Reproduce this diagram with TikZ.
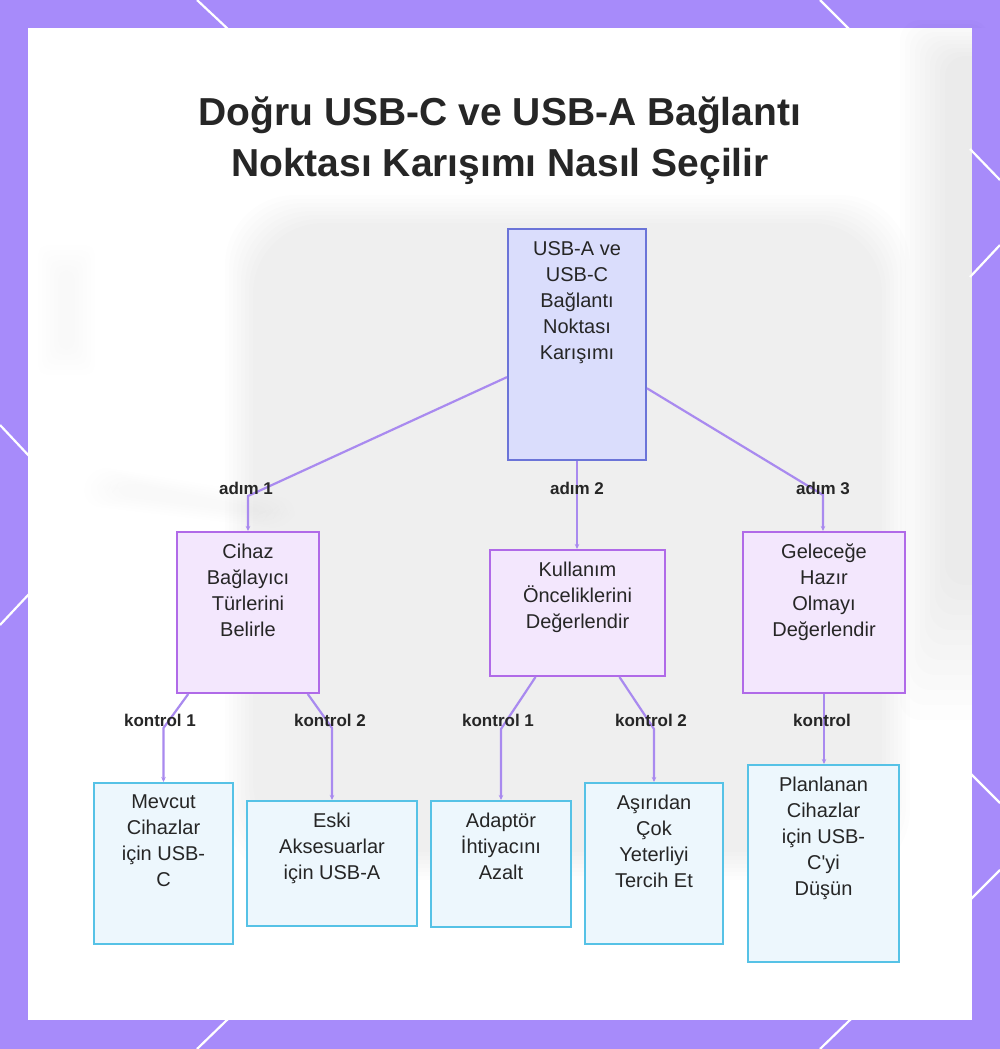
\documentclass[tikz,border=0pt]{standalone}
\usepackage{fontspec}
\setmainfont{Liberation Sans}[Ligatures=TeXOff]
\usetikzlibrary{arrows.meta,calc}
\definecolor{framec}{HTML}{A78BFA}
\definecolor{rootfill}{HTML}{DADDFC}
\definecolor{rootdraw}{HTML}{6B74D8}
\definecolor{midfill}{HTML}{F3E7FD}
\definecolor{middraw}{HTML}{B06AE8}
\definecolor{leaffill}{HTML}{EDF7FD}
\definecolor{leafdraw}{HTML}{56C2E6}
\definecolor{connc}{HTML}{A98AEF}
\definecolor{txt}{HTML}{262626}
\begin{document}
\begin{tikzpicture}[x=1pt,y=-1pt,
  boxbase/.style={rectangle, inner sep=0pt, line width=2pt},
  rootbox/.style={boxbase, fill=rootfill, draw=rootdraw},
  midbox/.style={boxbase, fill=midfill, draw=middraw},
  leafbox/.style={boxbase, fill=leaffill, draw=leafdraw},
  boxtext/.style={anchor=north, inner sep=0pt, align=center, text=txt,
    font=\fontsize{20}{26}\selectfont, yshift=-13pt},
  lbl/.style={inner sep=0pt, text=txt, font=\fontsize{17}{19}\selectfont\bfseries},
  conn/.style={draw=connc, line width=2.2pt, -{Stealth[length=5pt,width=4.5pt]}},
  ttl/.style={anchor=base, inner sep=0pt, text=txt, font=\fontsize{39}{50}\selectfont\bfseries},
  diag/.style={draw=white, line width=2.2pt}
]
\useasboundingbox (0,0) rectangle (1000,1049);
% frame
\fill[framec] (0,0) rectangle (1000,1049);
\draw[diag] (197,0) -- (229,30);
\draw[diag] (820,0) -- (850,30);
\draw[diag] (197,1049) -- (229,1018);
\draw[diag] (820,1049) -- (852,1018);
\draw[diag] (0,425) -- (30,457);
\draw[diag] (0,625) -- (30,593);
\draw[diag] (1000,180) -- (970,149);
\draw[diag] (1000,245) -- (970,277);
\draw[diag] (1000,803) -- (970,773);
\draw[diag] (1000,870) -- (970,900);
% panel
\fill[white] (28,28) rectangle (972,1020);
% faint blurred background
\foreach \i in {0,...,7} {
  \fill[black, opacity=0.006, rounded corners=70pt] (225+\i*4,195+\i*4) rectangle (910-\i*4,880-\i*4);
}
\foreach \i in {0,...,9} {
  \fill[black, opacity=0.007, rounded corners=20pt] (900+\i*5,20+\i*4) rectangle (990,720-\i*15);
}
\foreach \i in {0,...,5} {
  \fill[black, opacity=0.005, rounded corners=20pt] (90+\i*6,465+\i*3) -- (300-\i*6,500+\i*2) -- (290-\i*6,530-\i*3) -- (80+\i*6,505-\i*2) -- cycle;
}
\foreach \i in {0,...,5} {
  \fill[black, opacity=0.005, rounded corners=10pt] (38+\i*4,245+\i*5) rectangle (95-\i*4,375-\i*5);
}
\fill[white] (972,28) rectangle (1000,1020);
\fill[framec] (972,28) rectangle (1000,1020);
\draw[diag] (1000,180) -- (970,149);
\draw[diag] (1000,245) -- (970,277);
\draw[diag] (1000,803) -- (970,773);
\draw[diag] (1000,870) -- (970,900);
% title
\node[ttl] (t1) at (500,125) {Doğru USB-C ve USB-A Bağlantı};
\node[ttl] (t2) at (500,176) {Noktası Karışımı Nasıl Seçilir};
% boxes
\node[rootbox, minimum width=138pt, minimum height=231pt] (root) at (577,344.5) {};
\node[boxtext] (roott) at (root.north) {USB-A ve\\USB-C\\Bağlantı\\Noktası\\Karışımı};

\node[midbox, minimum width=142pt, minimum height=161pt] (b1) at (248,612.5) {};
\node[boxtext] (b1t) at (b1.north) {Cihaz\\Bağlayıcı\\Türlerini\\Belirle};
\node[midbox, minimum width=175pt, minimum height=126pt] (b2) at (577.5,613) {};
\node[boxtext] (b2t) at (b2.north) {Kullanım\\Önceliklerini\\Değerlendir};
\node[midbox, minimum width=162pt, minimum height=161pt] (b3) at (824,612.5) {};
\node[boxtext] (b3t) at (b3.north) {Geleceğe\\Hazır\\Olmayı\\Değerlendir};

\node[leafbox, minimum width=139pt, minimum height=161pt] (c1) at (163.5,863.5) {};
\node[boxtext] (c1t) at (c1.north) {Mevcut\\Cihazlar\\için USB-\\C};
\node[leafbox, minimum width=170pt, minimum height=125pt] (c2) at (332,863.5) {};
\node[boxtext] (c2t) at (c2.north) {Eski\\Aksesuarlar\\için USB-A};
\node[leafbox, minimum width=140pt, minimum height=126pt] (c3) at (501,864) {};
\node[boxtext] (c3t) at (c3.north) {Adaptör\\İhtiyacını\\Azalt};
\node[leafbox, minimum width=138pt, minimum height=161pt] (c4) at (654,863.5) {};
\node[boxtext] (c4t) at (c4.north) {Aşırıdan\\Çok\\Yeterliyi\\Tercih Et};
\node[leafbox, minimum width=151pt, minimum height=197pt] (c5) at (823.5,863.5) {};
\node[boxtext] (c5t) at (c5.north) {Planlanan\\Cihazlar\\için USB-\\C'yi\\Düşün};

% bend points
\coordinate (bA) at (248,496);
\coordinate (bC) at (823,495);
\coordinate (k1) at (163.5,728);
\coordinate (k2) at (332,728);
\coordinate (k3) at (501,729);
\coordinate (k4) at (654,729);

% connectors
\draw[conn] ($(root.north west)!0.64!(root.south west)$) -- (bA) -- (b1.north);
\draw[conn] (root.south) -- (root.south |- b2.north);
\draw[conn] ($(root.north east)!0.688!(root.south east)$) -- (bC) -- (bC |- b3.north);
\draw[conn] ($(b1.south west)!0.085!(b1.south east)$) -- (k1) -- (c1.north);
\draw[conn] ($(b1.south west)!0.915!(b1.south east)$) -- (k2) -- (c2.north);
\draw[conn] ($(b2.south west)!0.263!(b2.south east)$) -- (k3) -- (c3.north);
\draw[conn] ($(b2.south west)!0.737!(b2.south east)$) -- (k4) -- (c4.north);
\draw[conn] (b3.south) -- (b3.south |- c5.north);

% labels
\node[lbl] (la1) at (246,488) {adım 1};
\node[lbl] (la2) at (577,488) {adım 2};
\node[lbl] (la3) at (823,488) {adım 3};
\node[lbl] (lk1) at (160,720) {kontrol 1};
\node[lbl] (lk2) at (330,720) {kontrol 2};
\node[lbl] (lk3) at (498,720) {kontrol 1};
\node[lbl] (lk4) at (651,720) {kontrol 2};
\node[lbl] (lk5) at (822,720) {kontrol};
\end{tikzpicture}
\end{document}
